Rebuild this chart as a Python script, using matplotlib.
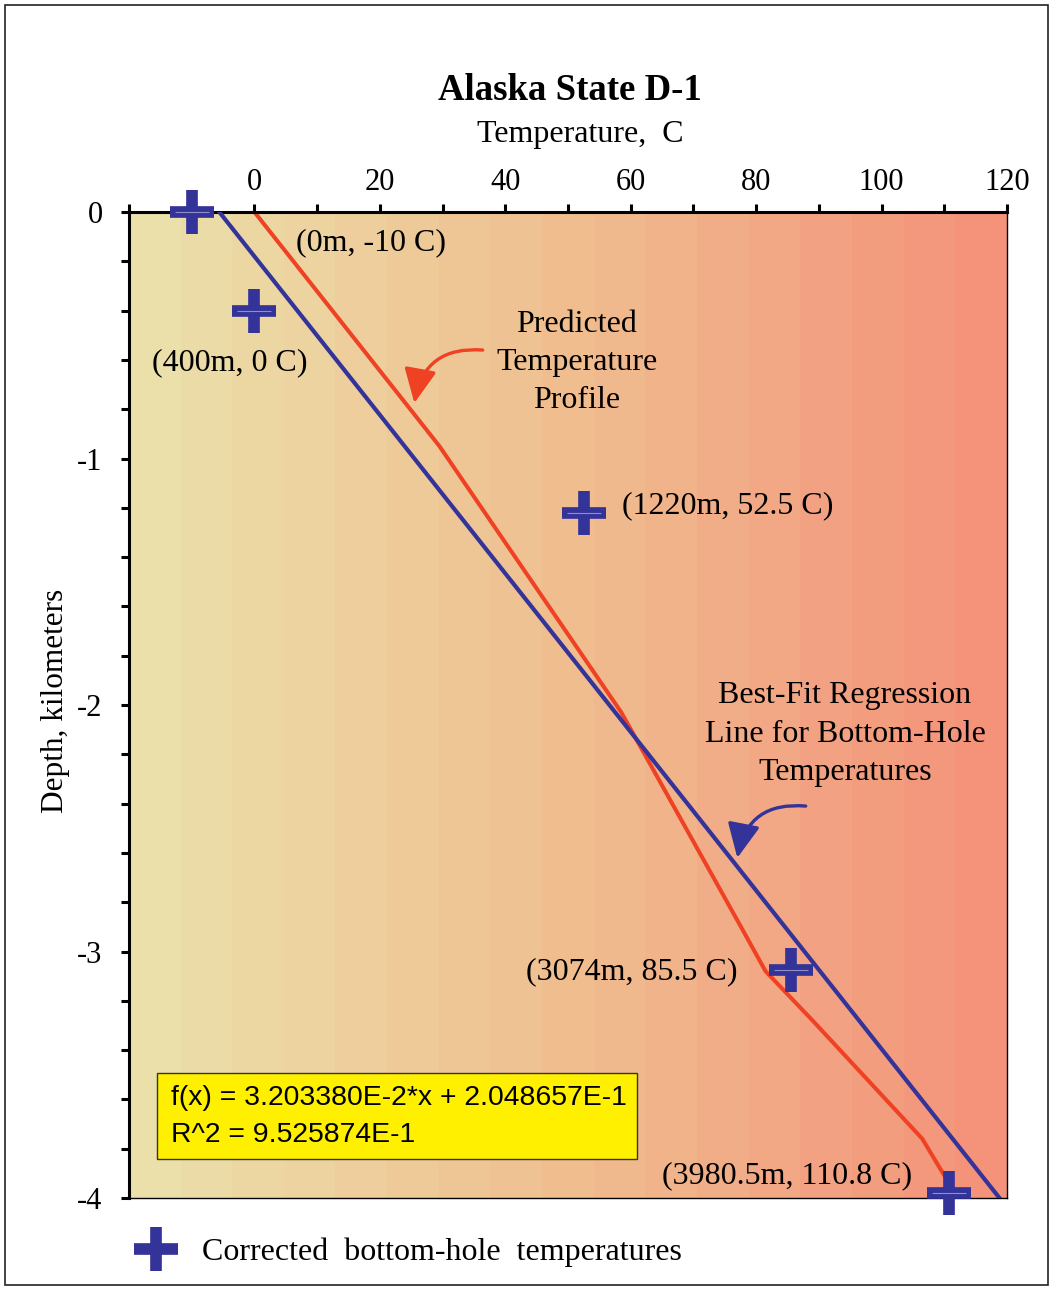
import numpy as np
import matplotlib
matplotlib.use('Agg')
import matplotlib.pyplot as plt
from matplotlib.patches import Rectangle, FancyArrowPatch
from matplotlib.colors import LinearSegmentedColormap

plt.rcParams['font.family'] = 'Liberation Serif'
plt.rcParams['axes.unicode_minus'] = False

# measured bottom-hole temperatures (C) and depths (km)
bht_temp = [-10, 0, 52.5, 85.5, 110.8]
bht_depth = [0, -0.4, -1.22, -3.074, -3.9805]
bht_labels = ['(0m, -10 C)', '(400m, 0 C)', '(1220m, 52.5 C)',
              '(3074m, 85.5 C)', '(3980.5m, 110.8 C)']

# predicted temperature profile
pred_temp = [0, 29.5, 58.5, 77.8, 81.5, 89.0, 106.5, 110.5, 112.0]
pred_depth = [0, -0.95, -2.03, -2.91, -3.08, -3.28, -3.76, -3.93, -3.98]

# best-fit regression line end points
fit_temp = [-5.6, 118.8]
fit_depth = [0, -4.0]

x_ticks = [0, 20, 40, 60, 80, 100, 120]
y_ticks = [0, -1, -2, -3, -4]

W, H = 1053, 1289
fig = plt.figure(figsize=(W / 100, H / 100), dpi=100)


def fx(px):
    return px / W


def fy(py):
    return 1 - py / H


ax = fig.add_axes([fx(129), fy(1198), (1007 - 129) / W, (1198 - 212) / H])

# banded background gradient
bands = np.linspace(0, 1, 17).reshape(1, -1)
cmap = LinearSegmentedColormap.from_list('bg', ['#EBE0AA', '#F0BE90', '#F4937A'])
ax.imshow(bands, cmap=cmap, extent=(-20, 120, -4, 0), aspect='auto',
          interpolation='nearest', zorder=0)

ax.plot(pred_temp, pred_depth, color='#EF4123', lw=2.9, zorder=2)
ax.plot(fit_temp, fit_depth, color='#333399', lw=3.0, zorder=3)
ax.plot(bht_temp, bht_depth, linestyle='none', marker='+', ms=31.5, mew=8.4,
        color='#333399', clip_on=False, zorder=5,
        label='Corrected  bottom-hole  temperatures')
ax.plot(bht_temp, bht_depth, linestyle='none', marker='_', ms=24, mew=0.8,
        color='#8f8fc8', clip_on=False, zorder=6)

ax.set_xlim(-20, 120)
ax.set_ylim(-4, 0)
ax.xaxis.tick_top()
ax.set_xticks(x_ticks)
ax.set_xticks([-20, -10, 10, 30, 50, 70, 90, 110], minor=True)
ax.set_yticks(y_ticks)
ax.set_yticks(np.arange(-4, 0.01, 0.2), minor=True)
ax.set_yticklabels([str(v) for v in y_ticks])
ax.tick_params(axis='x', which='both', direction='out', length=6, width=2.2,
               pad=5, labelsize=22, top=True, bottom=False)
ax.tick_params(axis='y', which='both', direction='out', length=6, width=2.2,
               pad=13, labelsize=22, right=False)
ax.spines['top'].set_linewidth(2.2)
ax.spines['left'].set_linewidth(2.2)
ax.spines['right'].set_linewidth(1.0)
ax.spines['bottom'].set_linewidth(1.0)

# curved pointer arrows
arrow_style = '-|>,head_length=1.05,head_width=0.5'
ax.add_patch(FancyArrowPatch((36.4, -0.56), (25.5, -0.775),
                             connectionstyle='arc3,rad=0.45',
                             arrowstyle=arrow_style,
                             mutation_scale=20, lw=2.4, color='#EF4123',
                             shrinkA=0, shrinkB=0, zorder=4))
ax.add_patch(FancyArrowPatch((87.9, -2.41), (77.0, -2.62),
                             connectionstyle='arc3,rad=0.45',
                             arrowstyle=arrow_style,
                             mutation_scale=20, lw=2.4, color='#333399',
                             shrinkA=0, shrinkB=0, zorder=4))

# point labels
lab_pos = [(296, 250, 'left'), (152, 370, 'left'), (622, 513, 'left'),
           (738, 979, 'right'), (912, 1183, 'right')]
for (px, py, ha), txt in zip(lab_pos, bht_labels):
    fig.text(fx(px), fy(py), txt, ha=ha, va='baseline', fontsize=23)

for txt, py in zip(['Predicted', 'Temperature', 'Profile'], [332, 370, 408]):
    fig.text(fx(577), fy(py), txt, ha='center', va='baseline', fontsize=23)
for txt, py in zip(['Best-Fit Regression', 'Line for Bottom-Hole', 'Temperatures'],
                   [703, 742, 780]):
    fig.text(fx(845), fy(py), txt, ha='center', va='baseline', fontsize=23)

# regression equation box
fig.add_artist(Rectangle((fx(157), fy(1159)), 480 / W, 86 / H, transform=fig.transFigure,
                         facecolor='#FFF000', edgecolor='#333333', lw=1.0, zorder=3))
fig.text(fx(171), fy(1105), 'f(x) = 3.203380E-2*x + 2.048657E-1', fontsize=20.4,
         family='Liberation Sans', va='baseline', zorder=4)
fig.text(fx(171), fy(1142), 'R^2 = 9.525874E-1', fontsize=20.4,
         family='Liberation Sans', va='baseline', zorder=4)

# titles
fig.text(fx(570), fy(100), 'Alaska State D-1', ha='center', va='baseline',
         fontsize=26.5, fontweight='bold')
fig.text(fx(580), fy(142), 'Temperature,  C', ha='center', va='baseline', fontsize=23)
fig.text(fx(55), fy(701), 'Depth, kilometers', ha='center', va='center',
         rotation=90, fontsize=22.5)

leg = ax.legend(loc='center left', bbox_to_anchor=(fx(124), fy(1252)),
                bbox_transform=fig.transFigure, frameon=False, fontsize=23,
                handlelength=2, handletextpad=0.45, borderpad=0, borderaxespad=0,
                numpoints=1)

# outer frame
fig.add_artist(Rectangle((fx(5), fy(1285)), (1048 - 5) / W, (1285 - 5) / H,
                         transform=fig.transFigure, fill=False, lw=1.2,
                         edgecolor='#222222'))

plt.savefig('out.png', dpi=100)
